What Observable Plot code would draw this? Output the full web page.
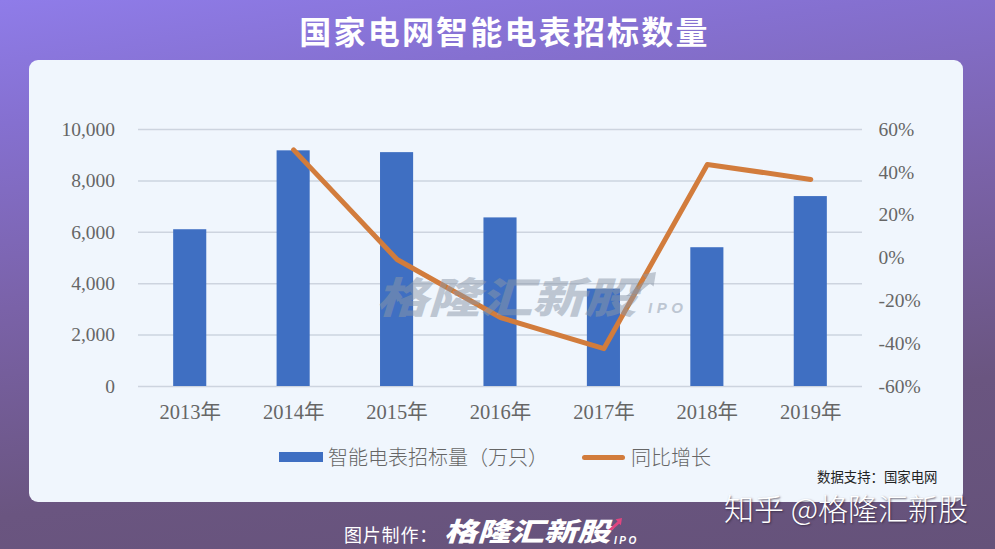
<!DOCTYPE html>
<html lang="zh">
<head>
<meta charset="utf-8">
<script src="https://cdn.jsdelivr.net/npm/d3@7"></script>
<script src="https://cdn.jsdelivr.net/npm/@observablehq/plot@0.6"></script>
<style>
  html, body { margin: 0; padding: 0; }
  body {
    width: 995px; height: 549px; position: relative; overflow: hidden;
    background: linear-gradient(172deg, #8f7ce9 0%, #8570d0 18%, #7a62a8 45%, #6a5580 75%, #65527a 100%);
    font-family: "Noto Sans CJK SC", sans-serif;
  }
  .abs { position: absolute; white-space: nowrap; line-height: 1; }
  #card { left: 29px; top: 60px; width: 934px; height: 442px; background: #f0f6fd; border-radius: 9px; }
  #chart { left: 0; top: 0; }
  #chart svg { display: block; background: transparent; }
  #title { left: 0; width: 1009px; top: 14px; text-align: center; color: #fff; font-size: 32px; font-weight: 700; letter-spacing: 2.2px; }
  .legend { color: #666; font-size: 20px; font-weight: 300; }
  #mark { left: 376px; top: 274px; font-size: 42px; font-weight: 900; font-style: italic; color: #8b97a8; opacity: .5; transform: scaleX(1.24); transform-origin: left center; }
  #markIpo { left: 648px; top: 300px; font-size: 15px; font-weight: 900; font-style: italic; color: #8b97a8; opacity: .5; font-family: "Liberation Sans"; letter-spacing: 4.5px; }
  #source { left: 817px; top: 470px; font-size: 13.4px; color: #222; }
  #zhihu { left: 724px; top: 492px; font-size: 30px; color: #fff; text-shadow: 1px 1px 2px rgba(40,30,50,.7); font-weight: 300; }
  #made { left: 344px; top: 525px; font-size: 18px; color: #fff; letter-spacing: .8px; }
  #logo { left: 444px; top: 517px; font-size: 26px; font-weight: 900; font-style: italic; color: #fff; transform: scaleX(1.28); transform-origin: left center; }
  #logoIpo { left: 614px; top: 536px; font-size: 10px; font-weight: 700; font-style: italic; color: #fff; font-family: "Liberation Sans"; letter-spacing: 2.5px; }
  #logoArrow { left: 608px; top: 518px; width: 14px; height: 12px; background: #e0457f; clip-path: polygon(100% 0, 55% 10%, 68% 30%, 0 100%, 30% 100%, 80% 48%, 92% 60%); }
  #markArrow { left: 626px; top: 272px; width: 30px; height: 24px; background: #8b97a8; opacity: .5; clip-path: polygon(100% 0, 55% 10%, 68% 30%, 0 100%, 30% 100%, 80% 48%, 92% 60%); }
</style>
</head>
<body>
<div id="card" class="abs"></div>
<div id="chart" class="abs"></div>
<div id="title" class="abs">国家电网智能电表招标数量</div>
<div id="mark" class="abs">格隆汇新股</div>
<div id="markArrow" class="abs"></div>
<div id="markIpo" class="abs">IPO</div>
<div class="abs" style="left:279px;top:452px;width:44px;height:10px;background:#3f6fc2"></div>
<div class="abs legend" style="left:328px;top:447px">智能电表招标量（万只）</div>
<div class="abs" style="left:582px;top:455px;width:43px;height:5px;border-radius:3px;background:#d27c3c"></div>
<div class="abs legend" style="left:631px;top:447px">同比增长</div>
<div id="source" class="abs">数据支持：国家电网</div>
<div id="zhihu" class="abs">知乎 @格隆汇新股</div>
<div id="made" class="abs">图片制作：</div>
<div id="logo" class="abs">格隆汇新股</div>
<div id="logoArrow" class="abs"></div>
<div id="logoIpo" class="abs">IPO</div>
<script>
const years = ["2013年", "2014年", "2015年", "2016年", "2017年", "2018年", "2019年"];
const tenders = [6100, 9170, 9100, 6560, 3790, 5400, 7390];
const growthYears = ["2014年", "2015年", "2016年", "2017年", "2018年", "2019年"];
const growth = [50.5, -0.7, -27.8, -42.3, 43.7, 36.7];
const leftTicks = [0, 2000, 4000, 6000, 8000, 10000];
const rightTicks = [-60, -40, -20, 0, 20, 40, 60];

const toLeft = d3.scaleLinear([-60, 60], [0, 10000]);
const bars = years.map((year, i) => ({year, value: tenders[i]}));
const line = growthYears.map((year, i) => ({year, value: toLeft(growth[i])}));
const labelFont = '"Liberation Serif", "Noto Sans CJK SC", serif';

const chart = Plot.plot({
  width: 995,
  height: 549,
  marginTop: 129,
  marginBottom: 163,
  marginLeft: 138,
  marginRight: 133,
  style: {background: "transparent", fontFamily: labelFont, fontSize: "19px", color: "#666"},
  x: {type: "band", domain: years, round: false, paddingInner: 0.68, paddingOuter: 0.34, align: 0.5},
  y: {domain: [0, 10000]},
  marks: [
    Plot.gridY(leftTicks, {stroke: "#cdd4df", strokeOpacity: 1, strokeWidth: 1.5}),
    Plot.barY(bars, {x: "year", y: "value", fill: "#3f6fc2"}),
    Plot.line(line, {x: "year", y: "value", stroke: "#d27c3c", strokeWidth: 5, curve: "linear"}),
    Plot.axisX({tickSize: 0, tickPadding: 18, label: null, fontSize: 20.5, fontFamily: labelFont, fill: "#666"}),
    Plot.axisY({ticks: leftTicks, anchor: "left", tickSize: 0, tickPadding: 23.5, label: null, tickFormat: d3.format(","), fontSize: 19.5, fontFamily: labelFont, fill: "#666"}),
    Plot.axisY({ticks: rightTicks.map(toLeft), anchor: "right", tickSize: 0, tickPadding: 16, label: null, tickFormat: v => Math.round(toLeft.invert(v)) + "%", fontSize: 19.5, fontFamily: labelFont, fill: "#666"})
  ]
});
document.getElementById("chart").append(chart);
</script>
</body>
</html>
